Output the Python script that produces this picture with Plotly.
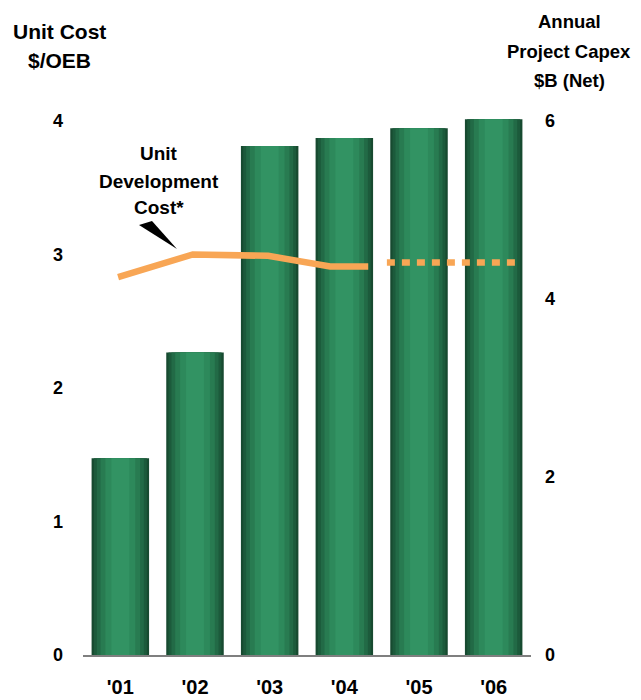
import plotly.graph_objects as go

years = ["'01", "'02", "'03", "'04", "'05", "'06"]
capex = [2.21, 3.40, 5.72, 5.81, 5.92, 6.02]          # $B (Net), right axis

# Unit development cost ($/OEB), left axis; positions in category units
cost_solid_pos = [-0.03, 0.97, 1.98, 2.81, 3.32]
cost_solid = [2.83, 3.00, 2.99, 2.91, 2.91]
cost_proj_pos = [3.57, 5.31]
cost_proj = [2.94, 2.94]

left_ticks = [0, 1, 2, 3, 4]
right_ticks = [0, 2, 4, 6]

FONT = "Liberation Sans, Arial, sans-serif"
idx = list(range(len(years)))

fig = go.Figure()

# cylindrical shading: stacked overlays of narrower, lighter bars
layers = [(0.77, "#174a30"), (0.71, "#1c5a3b"), (0.63, "#226a46"),
          (0.53, "#287b51"), (0.40, "#2d895b"), (0.24, "#329363")]
for w, c in layers:
    fig.add_trace(go.Bar(x=idx, y=capex, width=w, marker=dict(color=c, line=dict(width=0)),
                         yaxis="y", hoverinfo="skip", showlegend=False))

fig.add_trace(go.Scatter(x=cost_solid_pos, y=cost_solid, mode="lines", yaxis="y2",
                         line=dict(color="#f8a655", width=6.5), showlegend=False))
fig.add_trace(go.Scatter(x=cost_proj_pos, y=cost_proj, mode="lines", yaxis="y2",
                         line=dict(color="#f8a655", width=6.5, dash="8px,7px"), showlegend=False))

# page has an 8px body margin: figure is offset by (8, 8)
fig.update_layout(
    width=633, height=692,
    margin=dict(l=75, r=110, t=105, b=45),
    paper_bgcolor="white", plot_bgcolor="white",
    barmode="overlay",
    font=dict(family=FONT, color="black"),
    xaxis=dict(range=[-0.5, 5.5], tickvals=idx, ticktext=["<b>%s</b>" % y for y in years],
               tickfont=dict(size=20), showgrid=False, zeroline=False, automargin=False,
               showline=True, linecolor="#7f7f7f", linewidth=2, ticks="",
               ticklabelstandoff=13),
    yaxis=dict(side="right", range=[0, 6.09], tickvals=right_ticks, automargin=False,
               ticktext=["<b>%d</b>" % v for v in right_ticks], tickfont=dict(size=18),
               showgrid=False, zeroline=False, showline=False, ticks="",
               ticklabelstandoff=13),
    yaxis2=dict(side="left", overlaying="y", range=[0, 4.06], tickvals=left_ticks,
                automargin=False,
                ticktext=["<b>%d</b>" % v for v in left_ticks], tickfont=dict(size=18),
                showgrid=False, zeroline=False, showline=False, ticks="",
                ticklabelstandoff=19),
)

# helpers: page pixels -> paper fractions (plot area spans x 83..531, y 113..655 on page)
def pa(px):
    return (px - 83) / 448.0

def pb(py):
    return (655 - py) / 542.0

titles = [("Unit Cost", 59, 31, 21), ("$/OEB", 59, 60, 21),
          ("Annual", 569, 21, 18.5), ("Project Capex", 569, 51, 18.5), ("$B (Net)", 569, 81, 18.5)]
for t, px, py, fs in titles:
    fig.add_annotation(text="<b>%s</b>" % t, x=pa(px), y=pb(py), xref="paper", yref="paper",
                       showarrow=False, xanchor="center", yanchor="middle",
                       font=dict(size=fs, family=FONT))

for t, py in [("Unit", 153), ("Development", 181), ("Cost*", 208)]:
    fig.add_annotation(text="<b>%s</b>" % t, x=pa(159), y=pb(py), xref="paper", yref="paper",
                       showarrow=False, xanchor="center", yanchor="middle",
                       font=dict(size=19, family=FONT))

# pointer wedge
fig.add_shape(type="path", xref="paper", yref="paper",
              path="M %f %f L %f %f L %f %f Z" % (pa(139), pb(225), pa(152), pb(221), pa(177), pb(249)),
              fillcolor="black", line=dict(width=0))

fig.write_html("out.html")
